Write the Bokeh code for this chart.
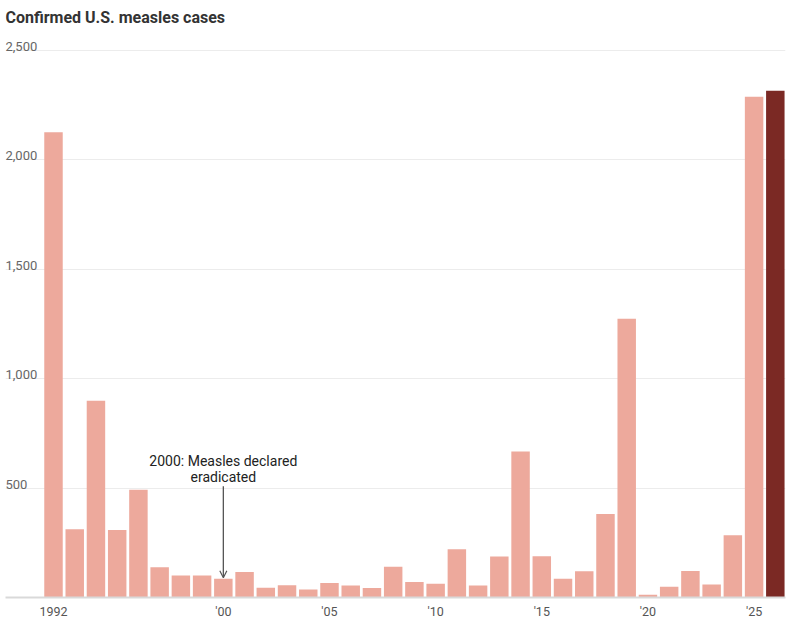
from bokeh.plotting import figure
from bokeh.models import ColumnDataSource, FixedTicker, Grid, Arrow, OpenHead
from bokeh.core.properties import value
from bokeh.embed import file_html
from bokeh.resources import INLINE

years = list(range(1992, 2027))
cases = [2126, 312, 899, 309, 493, 138, 100, 100, 86, 116,
         44, 56, 37, 66, 55, 43, 140, 71, 63, 220,
         55, 187, 667, 188, 86, 120, 382, 1274, 13, 49,
         121, 59, 285, 2289, 2316]
x_ticks = [1992, 2000, 2005, 2010, 2015, 2020, 2025]
x_tick_labels = ["1992", "'00", "'05", "'10", "'15", "'20", "'25"]
y_ticks = [500, 1000, 1500, 2000, 2500]
y_tick_labels = ["500", "1,000", "1,500", "2,000", "2,500"]
title_text = "Confirmed U.S. measles cases"
note_lines = ["2000: Measles declared", "eradicated"]
note_year = 2000
note_start = 508

LIGHT = "#EDA99C"
DARK = "#7B2924"
colors = [LIGHT] * (len(years) - 1) + [DARK]

W, H = 789, 622
left_b, right_b, top_b, bottom_b = 5, 4, 0, 25
frame_w = W - left_b - right_b
frame_h = H - top_b - bottom_b
px_per_year = 21.23
x_start = 1992 - 48 / px_per_year
x_end = x_start + frame_w / px_per_year
px_per_case = (597 - 50) / 2500.0
y_end = frame_h / px_per_case

def y_from_px(py):
    return (597 - py) / px_per_case

p = figure(width=W, height=H, output_backend="svg", toolbar_location=None,
           x_range=(x_start, x_end), y_range=(0, y_end),
           y_axis_location=None, min_border_left=left_b, min_border_right=right_b,
           min_border_top=top_b, min_border_bottom=bottom_b)
p.outline_line_color = None
p.background_fill_color = "white"
p.border_fill_color = "white"
p.xgrid.visible = False
p.ygrid.visible = False

grid = Grid(dimension=1, ticker=FixedTicker(ticks=y_ticks),
            grid_line_color="#ececec", grid_line_width=1)
p.add_layout(grid)

src = ColumnDataSource(dict(x=years, top=cases, color=colors))
p.vbar(x="x", top="top", width=0.87, bottom=0, source=src,
       fill_color="color", line_color=None)

ax = p.xaxis[0]
ax.ticker = FixedTicker(ticks=x_ticks)
ax.major_label_overrides = {t: l for t, l in zip(x_ticks, x_tick_labels)}
ax.axis_line_color = "#d9d9d9"
ax.axis_line_width = 2
ax.major_tick_line_color = None
ax.minor_tick_line_color = None
ax.major_tick_in = 0
ax.major_tick_out = 0
ax.major_label_standoff = 6
ax.major_label_text_font = "Roboto"
ax.major_label_text_font_size = "12.5px"
ax.major_label_text_color = "#555555"

# y labels above gridlines
p.text(x=[x_start] * len(y_ticks), y=y_ticks, text=y_tick_labels,
       text_font=value("Roboto"), text_font_size="13px", text_color="#666666",
       text_align="left", text_baseline="alphabetic", y_offset=-4)

# title
p.text(x=[x_start], y=[y_from_px(16.7)], text=[title_text],
       text_font=value("Roboto"), text_font_style="bold", text_font_size="16px",
       text_color="#333333", text_align="left", text_baseline="alphabetic")

# annotation
p.text(x=[note_year, note_year], y=[y_from_px(460.7), y_from_px(476.7)], text=note_lines,
       text_font=value("Roboto"), text_font_size="14px", text_color="#222222",
       text_align="center", text_baseline="alphabetic")
note_end = cases[years.index(note_year)] + 4
p.add_layout(Arrow(end=OpenHead(size=7, line_color="#555555", line_width=1.2),
                   x_start=note_year, y_start=note_start, x_end=note_year, y_end=note_end,
                   line_color="#555555", line_width=1.3))

open("out.html", "w").write(file_html(p, INLINE))
